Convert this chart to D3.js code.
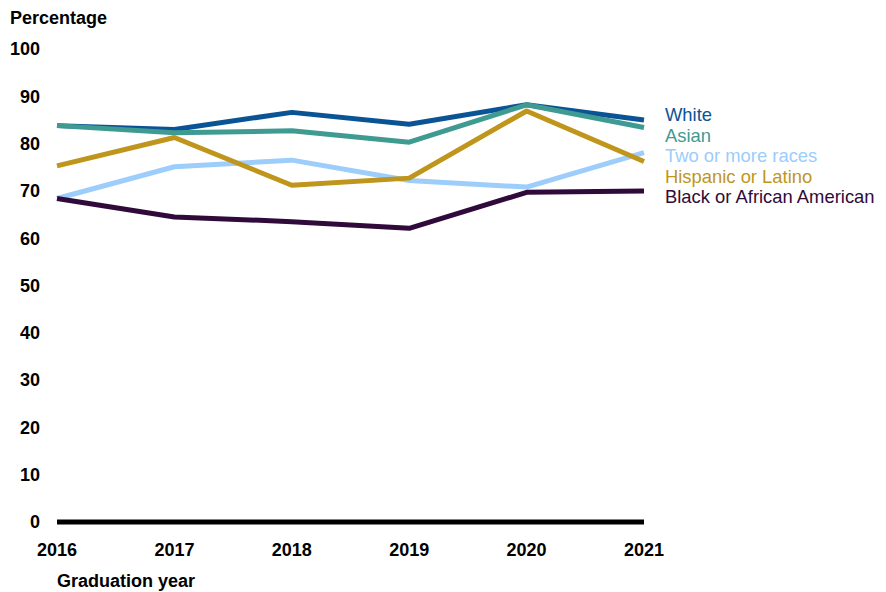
<!DOCTYPE html>
<html><head><meta charset="utf-8">
<script src="https://cdn.jsdelivr.net/npm/d3@7"></script>
<style>body{margin:0;background:#fff;}svg{display:block;font-family:"Liberation Sans",Arial,sans-serif;}</style>
</head><body>
<svg id="chart" width="886" height="592"></svg>
<script>
const years = [2016, 2017, 2018, 2019, 2020, 2021];
const white = [83.8, 83.0, 86.6, 84.1, 88.2, 85.0];
const asian = [83.8, 82.3, 82.7, 80.3, 88.2, 83.4];
const twoOrMore = [68.4, 75.1, 76.5, 72.2, 70.8, 78.1];
const hispanic = [75.3, 81.3, 71.2, 72.7, 86.9, 76.2];
const black = [68.4, 64.5, 63.5, 62.1, 69.7, 70.0];
const yTicks = [0, 10, 20, 30, 40, 50, 60, 70, 80, 90, 100];
const seriesNames = ["White", "Asian", "Two or more races", "Hispanic or Latino", "Black or African American"];
const seriesColors = ["#0a5394", "#3f9b92", "#9ccdfb", "#bf961b", "#300a3a"];

const series = [white, asian, twoOrMore, hispanic, black].map((v, i) => ({name: seriesNames[i], color: seriesColors[i], values: v}));

const svg = d3.select("#chart");
const x = d3.scalePoint().domain(years).range([57, 644]);
const y = d3.scaleLinear().domain([0, 100]).range([522, 49]);

// y tick labels
svg.append("g").selectAll("text").data(yTicks).join("text")
  .attr("x", 40).attr("y", d => y(d)).attr("dy", "0.35em")
  .attr("text-anchor", "end").attr("font-weight", "bold").attr("font-size", 18).attr("fill", "#000")
  .text(d => d);

// x axis line
svg.append("line").attr("x1", x(2016)).attr("x2", x(2021)).attr("y1", y(0)).attr("y2", y(0))
  .attr("stroke", "#000").attr("stroke-width", 5);

// x tick labels
svg.append("g").selectAll("text").data(years).join("text")
  .attr("x", d => x(d)).attr("y", 556)
  .attr("text-anchor", "middle").attr("font-weight", "bold").attr("font-size", 18).attr("fill", "#000")
  .text(d => d);

svg.append("text").attr("x", 10).attr("y", 24).attr("font-weight", "bold").attr("font-size", 18).text("Percentage");
svg.append("text").attr("x", 57).attr("y", 587).attr("font-weight", "bold").attr("font-size", 18).text("Graduation year");

const line = d3.line().x((d, i) => x(years[i])).y(d => y(d));
svg.append("g").selectAll("path").data(series).join("path")
  .attr("d", d => line(d.values)).attr("fill", "none")
  .attr("stroke", d => d.color).attr("stroke-width", 5).attr("stroke-linejoin", "round");

// legend labels
svg.append("g").selectAll("text").data(series).join("text")
  .attr("x", 665).attr("y", (d, i) => 114.5 + i * 20.6).attr("dy", "0.35em")
  .attr("font-size", 18.4).attr("fill", d => d.color).text(d => d.name);
</script>
</body></html>
